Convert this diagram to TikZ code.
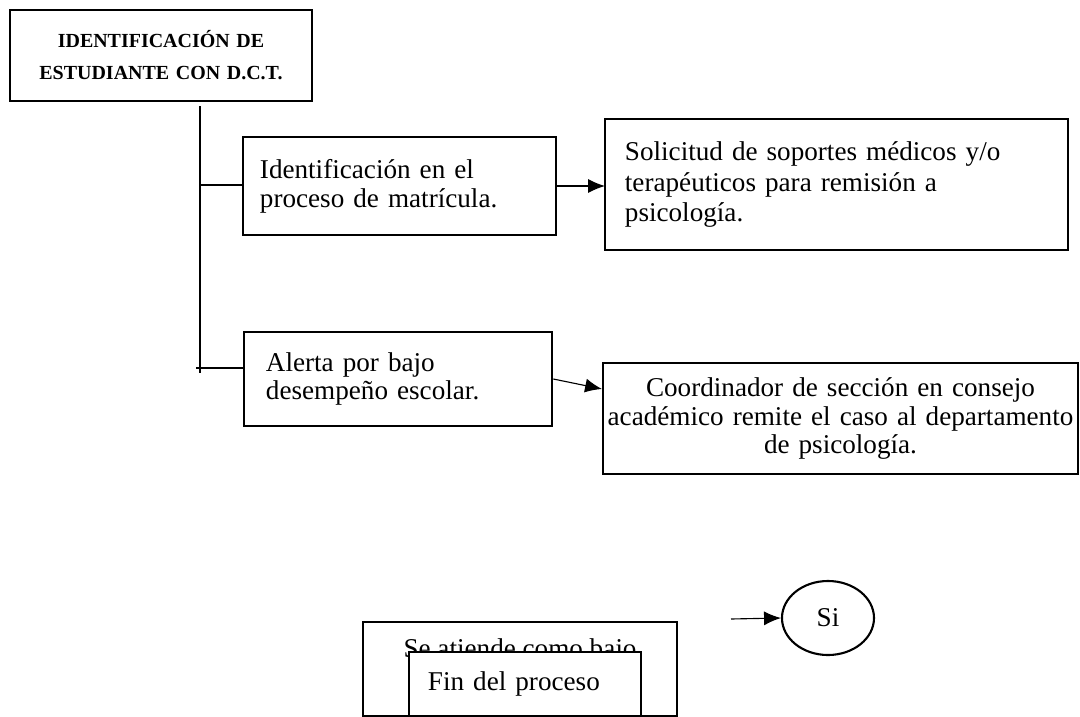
\documentclass[tikz,border=0pt]{standalone}
\usepackage{fontspec}
\setmainfont{Liberation Serif}
\usetikzlibrary{arrows.meta}
\usetikzlibrary{shapes}

\begin{document}
\begin{tikzpicture}[x = 0.025cm, y = -0.025cm]
	\tikzstyle{boxStyle} = [shape = rectangle, draw, line width = 1.8pt, inner ysep = 0pt, align = left, font = \fontsize{19.3}{20.5}\selectfont]
	\tikzstyle{titleStyle} = [boxStyle, align = center, inner xsep = 0.2cm, font = {\fontsize{14.2}{22.8}\selectfont\bfseries}]
	\tikzstyle{endStyle} = [shape = ellipse, draw, line width = 1.5pt, inner sep = 0pt, minimum width = 2.3cm, minimum height = 1.85cm, font = \fontsize{19.3}{20.5}\selectfont]
	\tikzstyle{lineStyle} = [line width = 0.8pt]
	\tikzstyle{arrowStyle} = [lineStyle, -{Latex[length = 12pt, width = 10pt]}]
	\useasboundingbox (0, 0) rectangle (1080, 717);
	% boxes
	\node[titleStyle, text width = 7.15cm, minimum height = 2.275cm] (title) at (161, 55.5) {IDENTIFICACIÓN DE\\ESTUDIANTE CON D.C.T.};
	\node[boxStyle, inner xsep = 0.425cm, text width = 6.975cm, minimum height = 2.45cm] (matricula) at (399.5, 186) {Identificación en el\\proceso de matrícula.};
	\node[boxStyle, inner xsep = 0.5cm, text width = 10.575cm, minimum height = 3.275cm, font = \fontsize{19.3}{22}\selectfont] (soportes) at (836.5, 184.5) {Solicitud de soportes médicos y/o\\terapéuticos para remisión a\\psicología.};
	\coordinate (soportesIn) at (605, 186);
	\node[boxStyle, inner xsep = 0.55cm, text width = 6.6cm, minimum height = 2.35cm] (alerta) at (398, 379) {Alerta por bajo\\desempeño escolar.};
	\node[boxStyle, align = center, inner xsep = 0.05cm, text width = 11.775cm, minimum height = 2.775cm, font = \fontsize{19.3}{20.5}\selectfont] (consejo) at (840.5, 418.5) {Coordinador de sección en consejo\\académico remite el caso al departamento\\de psicología.};
	\node[boxStyle, minimum width = 7.85cm, minimum height = 2.35cm, label = {[anchor = north, inner sep = 0pt, yshift = -0.45cm, font = \fontsize{19.3}{20.5}\selectfont]north:Se atiende como bajo}] (atiende) at (520, 669) {};
	\node[boxStyle, fill = white, inner xsep = 0.475cm, text width = 4.85cm, minimum height = 1.6cm] (fin) at (525, 684) {Fin del proceso};
	\node[endStyle] (si) at (828, 618) {Si};
	% trunk and branches
	\coordinate (trunkTop) at (200, 106);
	\coordinate (trunkBottom) at (200, 373);
	\coordinate (branchA) at (200, 185);
	\coordinate (branchB) at (196, 368);
	\draw[lineStyle] (trunkTop) -- (trunkBottom);
	\draw[lineStyle] (branchA) -- (branchA -| matricula.west);
	\draw[lineStyle] (branchB) -- (branchB -| alerta.west);
	% arrows
	\coordinate (consejoIn) at (602, 389);
	\coordinate (siFrom) at (731, 619);
	\draw[arrowStyle] (matricula.east) -- (soportesIn);
	\draw[arrowStyle] (alerta.east) -- (consejoIn);
	\draw[arrowStyle] (siFrom) -- (si.west);
\end{tikzpicture}
\end{document}
